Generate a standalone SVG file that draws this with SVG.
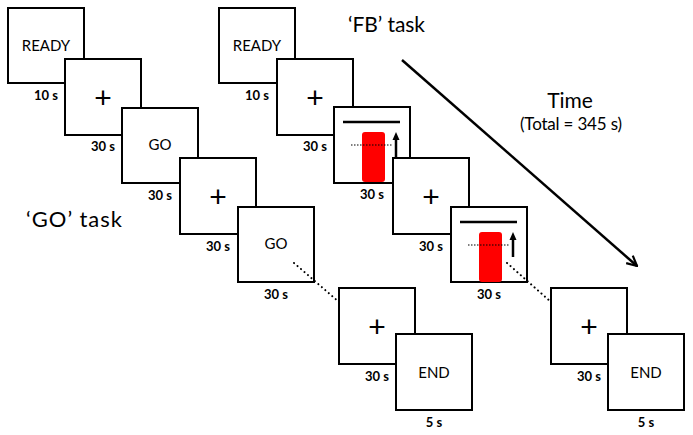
<svg xmlns="http://www.w3.org/2000/svg" width="693" height="435" viewBox="0 0 693 435">
<style>
.box{fill:#fff;stroke:#000;stroke-width:2}
.in{font-family:Lato,"Liberation Sans",sans-serif;font-size:15px;fill:#000;text-anchor:middle;dominant-baseline:central}
.plus{font-family:"Liberation Sans",sans-serif;font-size:30px;fill:#000;text-anchor:middle;dominant-baseline:central}
.t{font-family:Lato,"Liberation Sans",sans-serif;font-size:13px;font-weight:bold;fill:#000;text-anchor:middle}
.title{font-family:Lato,"Liberation Sans",sans-serif;fill:#000}
.dots{stroke:#000;stroke-width:2;stroke-dasharray:0.1 4.5;stroke-linecap:round;fill:none}
</style>
<defs>
<marker id="vhead" viewBox="0 0 12 12" refX="11" refY="6" markerWidth="12" markerHeight="12" markerUnits="userSpaceOnUse" orient="auto">
<path d="M1,1 L11,6 L1,11" fill="none" stroke="#000" stroke-width="2.2"/>
</marker>
<g id="fbcontent">
<line x1="9" y1="15" x2="66" y2="15" stroke="#000" stroke-width="2.5"/>
<rect x="28" y="25" width="23" height="50" rx="3" fill="#ff0000"/>
<line x1="17" y1="38" x2="58" y2="38" stroke="#000" stroke-width="1.2" stroke-dasharray="1.5 1.5"/>
<line x1="62" y1="50" x2="62" y2="32" stroke="#000" stroke-width="2.5"/>
<path d="M58.5,33 L62,25 L65.5,33 Z" fill="#000"/>
</g>
</defs>

<text class="title" x="348" y="32" font-size="21" textLength="77">‘FB’ task</text>
<text class="title" x="26" y="227" font-size="22" textLength="96">‘GO’ task</text>
<text class="title" x="570" y="108" font-size="21" text-anchor="middle">Time</text>
<text class="title" x="571" y="130" font-size="17" text-anchor="middle" textLength="102">(Total = 345 s)</text>

<!-- GO task column -->
<g id="go1"><rect class="box" x="8" y="8" width="76" height="75"/><text class="in" x="46" y="45">READY</text><text class="t" x="46" y="100">10 s</text></g>
<g id="go2"><rect class="box" x="65" y="59" width="76" height="76"/><text class="plus" x="103" y="97">+</text><text class="t" x="103" y="151">30 s</text></g>
<g id="go3"><rect class="box" x="122" y="108" width="76" height="75"/><text class="in" x="160" y="144">GO</text><text class="t" x="160" y="200">30 s</text></g>
<g id="go4"><rect class="box" x="180" y="158" width="76" height="76"/><text class="plus" x="218" y="196">+</text><text class="t" x="218" y="251">30 s</text></g>
<g id="go5"><rect class="box" x="238" y="207" width="76" height="75"/><text class="in" x="276" y="243">GO</text><text class="t" x="276" y="299">30 s</text></g>
<g id="go6"><rect class="box" x="339" y="288" width="76" height="76"/><text class="plus" x="377" y="326">+</text><text class="t" x="377" y="381">30 s</text></g>
<g id="go7"><rect class="box" x="396" y="334" width="76" height="76"/><text class="in" x="434" y="372">END</text><text class="t" x="434" y="427">5 s</text></g>

<!-- FB task column -->
<g id="fb1"><rect class="box" x="219" y="8" width="76" height="75"/><text class="in" x="257" y="45">READY</text><text class="t" x="257" y="100">10 s</text></g>
<g id="fb2"><rect class="box" x="277" y="59" width="76" height="76"/><text class="plus" x="315" y="97">+</text><text class="t" x="315" y="151">30 s</text></g>
<g id="fb3"><rect class="box" x="334" y="107" width="76" height="76"/><use href="#fbcontent" x="334" y="107"/><text class="t" x="372" y="199">30 s</text></g>
<g id="fb4"><rect class="box" x="393" y="158" width="76" height="76"/><text class="plus" x="431" y="196">+</text><text class="t" x="431" y="251">30 s</text></g>
<g id="fb5"><rect class="box" x="451" y="207" width="76" height="75"/><use href="#fbcontent" x="451" y="207"/><text class="t" x="489" y="299">30 s</text></g>
<g id="fb6"><rect class="box" x="551" y="288" width="76" height="76"/><text class="plus" x="589" y="326">+</text><text class="t" x="589" y="381">30 s</text></g>
<g id="fb7"><rect class="box" x="608" y="334" width="76" height="76"/><text class="in" x="646" y="372">END</text><text class="t" x="646" y="427">5 s</text></g>

<g id="connectors">
<line class="dots" x1="294" y1="263" x2="339" y2="302"/>
<line class="dots" x1="507" y1="263" x2="551" y2="302"/>
<line x1="402" y1="60" x2="637" y2="266" stroke="#000" stroke-width="2.5" marker-end="url(#vhead)"/>
</g>
</svg>
